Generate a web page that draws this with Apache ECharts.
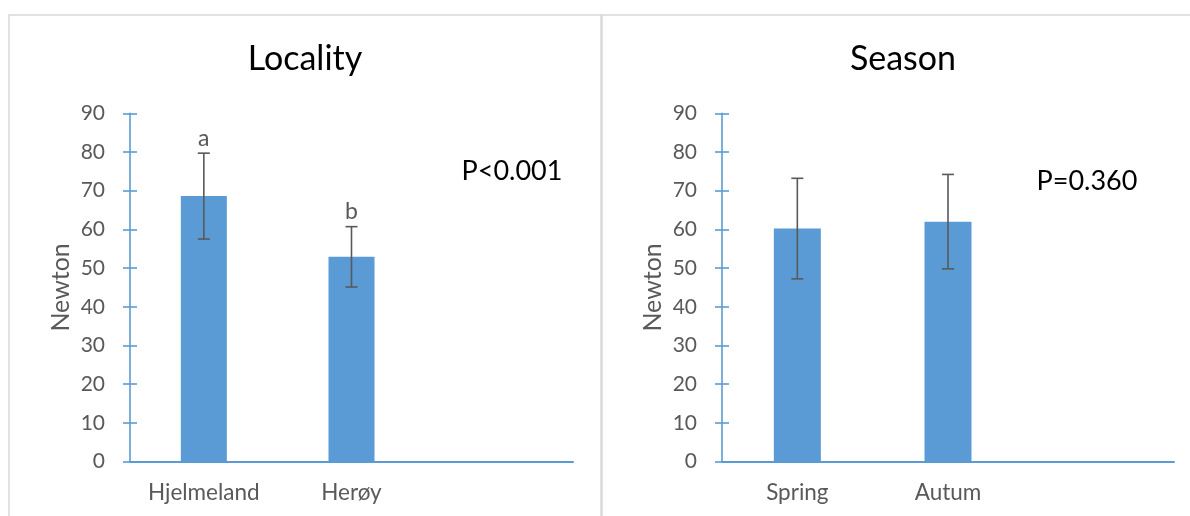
<!DOCTYPE html>
<html>
<head>
<meta charset="utf-8">
<script src="https://cdn.jsdelivr.net/npm/echarts@6/dist/echarts.min.js"></script>
<style>
  html, body { margin: 0; padding: 0; background: #fff; }
  #chart { width: 1190px; height: 516px; }
</style>
</head>
<body>
<div id="chart"></div>
<script>
// Breaking force (Newton) by locality and by season, mean ± SD
const localityCats = ['Hjelmeland', 'Herøy', ''];
const localityMeans = [68.6, 52.9];
const localityErr = [11.1, 7.8];
const localityLetters = ['a', 'b'];

const seasonCats = ['Spring', 'Autum', ''];
const seasonMeans = [60.2, 62.0];
const seasonErr = [13.0, 12.2];

const panelTitles = ['Locality', 'Season'];
const pValues = ['P<0.001', 'P=0.360'];
const yName = 'Newton';
const yMin = 0, yMax = 90, yStep = 10;

const FONT = 'Lato, "Liberation Sans", sans-serif';
const BLUE = '#5b9bd5';
const GREY_TXT = '#595959';

function errorData(means, errs, letters) {
  return means.map((m, i) => [i, m - errs[i], m + errs[i], letters ? letters[i] : '']);
}

function renderError(params, api) {
  const x = api.value(0);
  const lo = api.coord([x, api.value(1)]);
  const hi = api.coord([x, api.value(2)]);
  const cap = 6;
  const style = { stroke: '#595959', lineWidth: 1.6 };
  const children = [
    { type: 'line', shape: { x1: hi[0], y1: hi[1], x2: lo[0], y2: lo[1] }, style },
    { type: 'line', shape: { x1: hi[0] - cap, y1: hi[1], x2: hi[0] + cap, y2: hi[1] }, style },
    { type: 'line', shape: { x1: lo[0] - cap, y1: lo[1], x2: lo[0] + cap, y2: lo[1] }, style }
  ];
  const letter = api.value(3);
  if (letter) {
    children.push({
      type: 'text',
      style: {
        text: letter, x: hi[0], y: hi[1] - 15,
        textAlign: 'center', textVerticalAlign: 'middle',
        fill: GREY_TXT, font: '23px ' + FONT
      }
    });
  }
  return { type: 'group', children };
}

function yAxesFor(gridIndex) {
  return [
    {
      gridIndex, type: 'value', min: yMin, max: yMax, interval: yStep,
      name: yName, nameLocation: 'middle', nameGap: 57,
      nameTextStyle: { color: GREY_TXT, fontSize: 25, fontFamily: FONT },
      axisLine: { show: true, lineStyle: { color: BLUE, width: 1.6 } },
      axisTick: { show: true, length: 7, lineStyle: { color: BLUE, width: 1.6 } },
      axisLabel: { color: GREY_TXT, fontSize: 21, fontFamily: FONT, margin: 25 },
      splitLine: { show: false }
    },
    {
      gridIndex, type: 'value', min: yMin, max: yMax, interval: yStep, position: 'left',
      axisLine: { show: false },
      axisTick: { show: true, inside: true, length: 7, lineStyle: { color: BLUE, width: 1.6 } },
      axisLabel: { show: false },
      splitLine: { show: false }
    }
  ];
}

function xAxisFor(gridIndex, cats) {
  return {
    gridIndex, type: 'category', data: cats,
    axisLine: { show: true, lineStyle: { color: BLUE, width: 2 } },
    axisTick: { show: false },
    axisLabel: { color: GREY_TXT, fontSize: 22.5, fontFamily: FONT, margin: 20, interval: 0 }
  };
}

const chart = echarts.init(document.getElementById('chart'), null, { renderer: 'canvas' });

chart.setOption({
  animation: false,
  backgroundColor: '#fff',
  grid: [
    { left: 130, right: 617, top: 113.3, bottom: 54.5 },
    { left: 722, right: 16, top: 113.3, bottom: 54.5 }
  ],
  xAxis: [xAxisFor(0, localityCats), xAxisFor(1, seasonCats)],
  yAxis: [...yAxesFor(0), ...yAxesFor(1)],
  graphic: [
    { type: 'rect', shape: { x: 9, y: 15, width: 592, height: 530 },
      style: { fill: 'none', stroke: '#d9d9d9', lineWidth: 1.5 }, silent: true },
    { type: 'rect', shape: { x: 602, y: 15, width: 600, height: 530 },
      style: { fill: 'none', stroke: '#d9d9d9', lineWidth: 1.5 }, silent: true },
    { type: 'text', x: 305, y: 59,
      style: { text: panelTitles[0], textAlign: 'center', textVerticalAlign: 'middle',
               fill: '#000', font: '34px ' + FONT } },
    { type: 'text', x: 903, y: 59,
      style: { text: panelTitles[1], textAlign: 'center', textVerticalAlign: 'middle',
               fill: '#000', font: '34px ' + FONT } },
    { type: 'text', x: 512, y: 171,
      style: { text: pValues[0], textAlign: 'center', textVerticalAlign: 'middle',
               fill: '#000', font: '27px ' + FONT } },
    { type: 'text', x: 1087, y: 181,
      style: { text: pValues[1], textAlign: 'center', textVerticalAlign: 'middle',
               fill: '#000', font: '27px ' + FONT } }
  ],
  series: [
    { type: 'bar', xAxisIndex: 0, yAxisIndex: 0, data: localityMeans, barWidth: 46,
      itemStyle: { color: BLUE }, silent: true },
    { type: 'custom', xAxisIndex: 0, yAxisIndex: 0, renderItem: renderError,
      data: errorData(localityMeans, localityErr, localityLetters), z: 5, silent: true },
    { type: 'bar', xAxisIndex: 1, yAxisIndex: 2, data: seasonMeans, barWidth: 47,
      itemStyle: { color: BLUE }, silent: true },
    { type: 'custom', xAxisIndex: 1, yAxisIndex: 2, renderItem: renderError,
      data: errorData(seasonMeans, seasonErr, null), z: 5, silent: true }
  ]
});
</script>
</body>
</html>
